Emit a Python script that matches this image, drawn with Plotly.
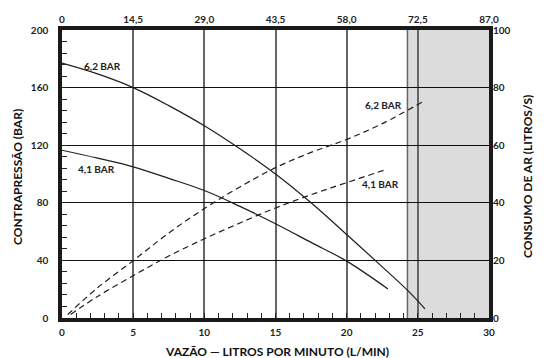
import plotly.graph_objects as go

# Back-pressure curves (left axis, bar) vs flow (L/min)
x_solid_62 = [0, 2.5, 5, 7.5, 10, 12.5, 15, 17.5, 20, 22.5, 24.3, 25.5]
y_solid_62 = [177, 169.5, 160, 147.5, 133.5, 117.5, 100, 80, 58, 35.5, 19, 6.4]
x_solid_41 = [0, 2.5, 5, 7.5, 10, 12.5, 15, 17.5, 20, 22.9]
y_solid_41 = [116.5, 111, 105, 97, 88.5, 77.5, 65.5, 52.5, 39.5, 20.2]

# Air consumption curves (right axis, L/s)
x_dash_62 = [0.4, 2.5, 5, 7.5, 10, 12.5, 15, 17.5, 20, 22.5, 25.5]
y_dash_62 = [1.2, 10.5, 19.9, 29.5, 38, 45.5, 52.2, 57.5, 62, 67.5, 75.5]
x_dash_41 = [0.6, 2.5, 5, 7.5, 10, 12.5, 15, 17.5, 20, 22.8]
y_dash_41 = [1.2, 7.5, 14.7, 21.5, 27.5, 33, 38.2, 42.8, 47, 51.6]

top_tickvals = [0, 14.5, 29.0, 43.5, 58.0, 72.5, 87.0]
top_ticktext = ["0", "14,5", "29,0", "43,5", "58,0", "72,5", "87,0"]
shade_start = 24.27

FONT = "Lato"
lc = "#1e1e1e"

fig = go.Figure()
fig.add_trace(go.Scatter(x=x_solid_62, y=y_solid_62, mode="lines", line=dict(color=lc, width=1.2, shape="spline"), showlegend=False))
fig.add_trace(go.Scatter(x=x_solid_41, y=y_solid_41, mode="lines", line=dict(color=lc, width=1.2, shape="spline"), showlegend=False))
fig.add_trace(go.Scatter(x=x_dash_62, y=y_dash_62, yaxis="y2", mode="lines", line=dict(color=lc, width=1.2, dash="6px,4px", shape="spline"), showlegend=False))
fig.add_trace(go.Scatter(x=x_dash_41, y=y_dash_41, yaxis="y2", mode="lines", line=dict(color=lc, width=1.2, dash="6px,4px", shape="spline"), showlegend=False))
# invisible trace to anchor the top axis
fig.add_trace(go.Scatter(x=[0, 87], y=[None, None], xaxis="x2", mode="lines", showlegend=False, hoverinfo="skip"))

tickfont = dict(family=FONT, size=10, color="#222", weight="bold")
labfont = dict(family=FONT, size=10, color="#222", weight="bold")
titlefont = dict(family=FONT, size=12, color="#111", weight="bold")

fig.update_layout(
    width=547, height=358,
    margin=dict(l=62, r=58, t=30, b=40),
    paper_bgcolor="white", plot_bgcolor="white",
    xaxis=dict(range=[0, 30], dtick=5, tickfont=tickfont, showgrid=True, gridcolor="#666666", gridwidth=1.5,
               ticks="inside", ticklen=5, tickcolor="#222", zeroline=False,
               showline=True, mirror=True, linecolor="#1a1a1a", linewidth=3.5,
               ticklabelstandoff=2,
               minor=dict(ticks="inside", dtick=1, ticklen=5, tickcolor="#222", showgrid=False)),
    xaxis2=dict(range=[0, 87], overlaying="x", side="top", anchor="y", tickvals=top_tickvals, ticktext=top_ticktext,
                tickfont=tickfont, showgrid=False, zeroline=False, ticks="", showline=False, ticklabelstandoff=4),
    yaxis=dict(range=[0, 200], dtick=40, tickfont=tickfont, showgrid=True, gridcolor="#111111", gridwidth=1,
               ticks="inside", ticklen=5, tickcolor="#222", zeroline=False,
               showline=True, mirror=True, linecolor="#1a1a1a", linewidth=3.5,
               ticklabelstandoff=8,
               minor=dict(ticks="inside", dtick=8, ticklen=5, tickcolor="#222", showgrid=False)),
    yaxis2=dict(range=[0, 100], dtick=20, overlaying="y", side="right", anchor="x", tickfont=tickfont,
                showgrid=False, zeroline=False, ticks="", showline=False, ticklabelstandoff=3),
    shapes=[
        dict(type="rect", xref="x", yref="y domain", x0=shade_start, x1=30, y0=0, y1=1,
             fillcolor="#dcdcdc", line=dict(width=0), layer="below"),
        dict(type="line", xref="x", yref="y domain", x0=shade_start, x1=shade_start, y0=0, y1=1,
             line=dict(color="#666666", width=1.5), layer="below"),
    ],
    annotations=[
        dict(text="6,2 BAR", x=2.85, y=175.2, xref="x", yref="y", showarrow=False, font=labfont,
             xanchor="center", yanchor="middle"),
        dict(text="4,1 BAR", x=2.42, y=103.5, xref="x", yref="y", showarrow=False, font=labfont,
             xanchor="center", yanchor="middle"),
        dict(text="6,2 BAR", x=22.6, y=73.9, xref="x", yref="y2", showarrow=False, font=labfont,
             xanchor="center", yanchor="middle"),
        dict(text="4,1 BAR", x=22.4, y=46.5, xref="x", yref="y2", showarrow=False, font=labfont,
             xanchor="center", yanchor="middle"),
        dict(text="CONTRAPRESSÃO (BAR)", x=(18 - 62) / 427, y=0.49, xref="paper", yref="paper", showarrow=False,
             textangle=-90, font=titlefont, xanchor="center", yanchor="middle"),
        dict(text="CONSUMO DE AR (LITROS/S)", x=(528 - 62) / 427, y=0.49, xref="paper", yref="paper", showarrow=False,
             textangle=-90, font=titlefont, xanchor="center", yanchor="middle"),
        dict(text="VAZÃO — LITROS POR MINUTO (L/MIN)", x=(277 - 62) / 427, y=-(351 - 318) / 288,
             xref="paper", yref="paper", showarrow=False, font=titlefont,
             xanchor="center", yanchor="middle"),
    ],
)

fig.write_html("out.html", config={"displayModeBar": False},
               post_script="document.body.style.margin='0px';")
